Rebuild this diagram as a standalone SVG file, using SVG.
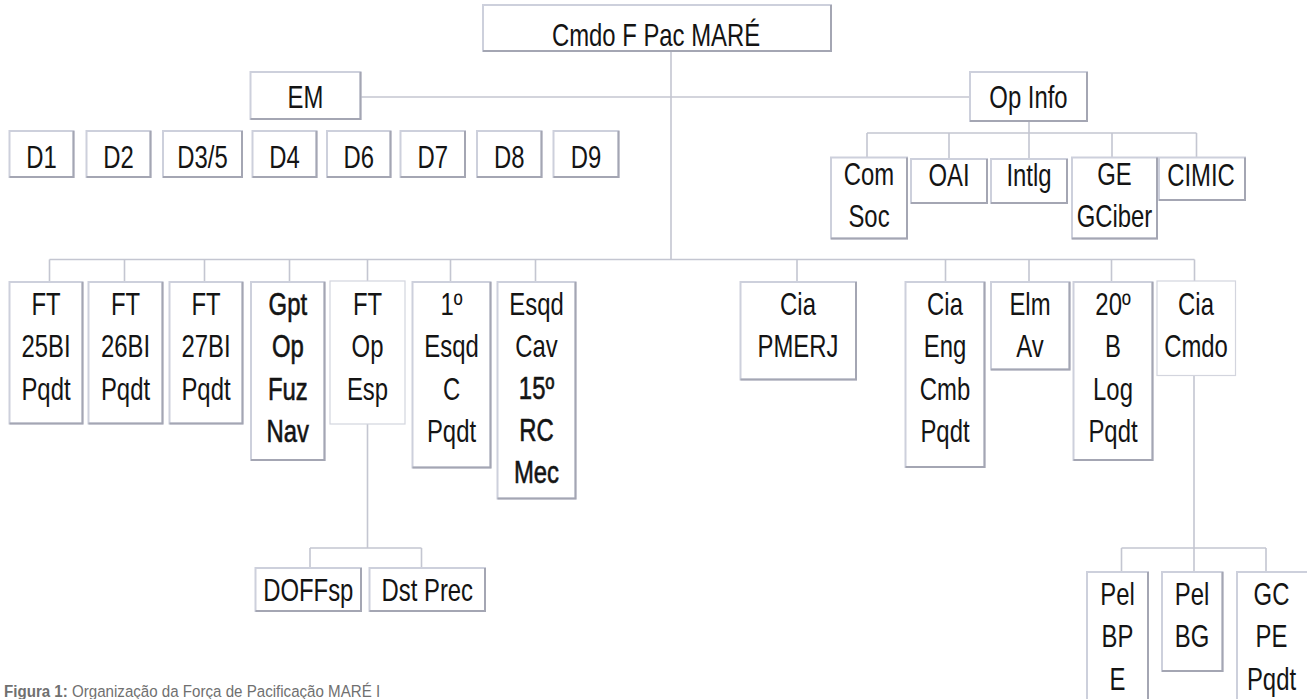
<svg xmlns="http://www.w3.org/2000/svg" width="1307" height="699" viewBox="0 0 1307 699">
<style>
.b{fill:#fff;stroke:#cdd0dc;stroke-width:2}
.s{fill:none;stroke:#a4a6b3;stroke-width:2}
.l{fill:#fff;stroke:#d3d5de;stroke-width:1.2}
.c{fill:none;stroke:#c4c6d1;stroke-width:1.6}
.t{font-family:"Liberation Sans",Arial,sans-serif;font-size:31px;text-anchor:middle;fill:#141414}
.bd{stroke:#141414;stroke-width:0.6}
.cap{font-family:"Liberation Sans",Arial,sans-serif;font-size:16.8px;fill:#707070}
</style>
<rect width="1307" height="699" fill="#fff"/>
<g id="connectors">
<path class="c" d="M360.5,97H970"/>
<path class="c" d="M671,51V259.5"/>
<path class="c" d="M49.5,259.5H1194.5"/>
<path class="c" d="M49.5,259.5V282M124.5,259.5V282M204.5,259.5V282M289.5,259.5V282M367.5,259.5V281M450.5,259.5V282M535.5,259.5V282M797,259.5V282M945.5,259.5V282M1029,259.5V282M1111.5,259.5V282M1194.5,259.5V281"/>
<path class="c" d="M1029,121V133M867,133H1196.5M867,133V157.5M949,133V159M1029,133V159M1112,133V157.5M1196.5,133V157.5"/>
<path class="c" d="M367.5,424V548M310,548H421.5M310,548V568M421.5,548V568"/>
<path class="c" d="M1194,375.5V548M1121.5,548H1266M1121.5,548V572M1194,548V572M1266,548V572"/>
</g>
<g id="n-cmdo"><rect class="b" x="483" y="5" width="348" height="46"/><path class="s" d="M831,5V51H483"/><text class="t" transform="translate(656,46) scale(0.77,1)">Cmdo F Pac MARÉ</text></g>
<g id="n-em"><rect class="b" x="250.5" y="72" width="110" height="47"/><path class="s" d="M360.5,72V119H250.5"/><text class="t" transform="translate(305.5,108) scale(0.77,1)">EM</text></g>
<g id="n-opinfo"><rect class="b" x="970" y="72" width="117" height="49"/><path class="s" d="M1087,72V121H970"/><text class="t" transform="translate(1028.5,108) scale(0.77,1)">Op Info</text></g>
<g id="n-d1"><rect class="b" x="9.5" y="131" width="64" height="46"/><path class="s" d="M73.5,131V177H9.5"/><text class="t" transform="translate(41.5,168) scale(0.77,1)">D1</text></g>
<g id="n-d2"><rect class="b" x="86.5" y="131" width="64" height="46"/><path class="s" d="M150.5,131V177H86.5"/><text class="t" transform="translate(118.5,168) scale(0.77,1)">D2</text></g>
<g id="n-d35"><rect class="b" x="163" y="131" width="79" height="46"/><path class="s" d="M242,131V177H163"/><text class="t" transform="translate(202.5,168) scale(0.77,1)">D3/5</text></g>
<g id="n-d4"><rect class="b" x="252.5" y="131" width="64" height="46"/><path class="s" d="M316.5,131V177H252.5"/><text class="t" transform="translate(284.5,168) scale(0.77,1)">D4</text></g>
<g id="n-d6"><rect class="b" x="327" y="131" width="63.5" height="46"/><path class="s" d="M390.5,131V177H327"/><text class="t" transform="translate(358.8,168) scale(0.77,1)">D6</text></g>
<g id="n-d7"><rect class="b" x="400.5" y="131" width="64.5" height="46"/><path class="s" d="M465,131V177H400.5"/><text class="t" transform="translate(432.8,168) scale(0.77,1)">D7</text></g>
<g id="n-d8"><rect class="b" x="477" y="131" width="64.5" height="46"/><path class="s" d="M541.5,131V177H477"/><text class="t" transform="translate(509.3,168) scale(0.77,1)">D8</text></g>
<g id="n-d9"><rect class="b" x="553.5" y="131" width="65" height="46"/><path class="s" d="M618.5,131V177H553.5"/><text class="t" transform="translate(586,168) scale(0.77,1)">D9</text></g>
<g id="n-comsoc"><rect class="b" x="831" y="157.5" width="76" height="81"/><path class="s" d="M907,157.5V238.5H831"/><text class="t" transform="translate(869,185) scale(0.77,1)"><tspan x="0">Com</tspan><tspan x="0" dy="42">Soc</tspan></text></g>
<g id="n-oai"><rect class="b" x="911" y="159" width="76" height="44"/><path class="s" d="M987,159V203H911"/><text class="t" transform="translate(949,186) scale(0.77,1)">OAI</text></g>
<g id="n-intlg"><rect class="b" x="991" y="159" width="76" height="44"/><path class="s" d="M1067,159V203H991"/><text class="t" transform="translate(1029,186) scale(0.77,1)">Intlg</text></g>
<g id="n-ge"><rect class="b" x="1072" y="157.5" width="85" height="81"/><path class="s" d="M1157,157.5V238.5H1072"/><text class="t" transform="translate(1114.5,185) scale(0.77,1)"><tspan x="0">GE</tspan><tspan x="0" dy="42">GCiber</tspan></text></g>
<g id="n-cimic"><rect class="b" x="1159" y="157.5" width="86" height="42.5"/><path class="s" d="M1245,157.5V200H1159"/><text class="t" transform="translate(1201,186) scale(0.77,1)">CIMIC</text></g>
<g id="n-ft25"><rect class="b" x="9.5" y="282" width="73" height="141.5"/><path class="s" d="M82.5,282V423.5H9.5"/><text class="t" transform="translate(46,315) scale(0.77,1)"><tspan x="0">FT</tspan><tspan x="0" dy="42.5">25BI</tspan><tspan x="0" dy="42.5">Pqdt</tspan></text></g>
<g id="n-ft26"><rect class="b" x="88.5" y="282" width="74" height="141.5"/><path class="s" d="M162.5,282V423.5H88.5"/><text class="t" transform="translate(125.5,315) scale(0.77,1)"><tspan x="0">FT</tspan><tspan x="0" dy="42.5">26BI</tspan><tspan x="0" dy="42.5">Pqdt</tspan></text></g>
<g id="n-ft27"><rect class="b" x="169.5" y="282" width="73" height="141.5"/><path class="s" d="M242.5,282V423.5H169.5"/><text class="t" transform="translate(206,315) scale(0.77,1)"><tspan x="0">FT</tspan><tspan x="0" dy="42.5">27BI</tspan><tspan x="0" dy="42.5">Pqdt</tspan></text></g>
<g id="n-gpt"><rect class="b" x="251" y="282" width="73.5" height="178"/><path class="s" d="M324.5,282V460H251"/><text class="t bd" transform="translate(287.8,315) scale(0.77,1)"><tspan x="0">Gpt</tspan><tspan x="0" dy="42.5">Op</tspan><tspan x="0" dy="42.5">Fuz</tspan><tspan x="0" dy="42.5">Nav</tspan></text></g>
<g id="n-ftopesp"><rect class="l" x="330" y="281" width="75" height="143"/><text class="t" transform="translate(367.5,315) scale(0.77,1)"><tspan x="0">FT</tspan><tspan x="0" dy="42.5">Op</tspan><tspan x="0" dy="42.5">Esp</tspan></text></g>
<g id="n-1esqd"><rect class="b" x="412.5" y="282" width="78" height="185.5"/><path class="s" d="M490.5,282V467.5H412.5"/><text class="t" transform="translate(451.5,315) scale(0.77,1)"><tspan x="0">1º</tspan><tspan x="0" dy="42.5">Esqd</tspan><tspan x="0" dy="42.5">C</tspan><tspan x="0" dy="42.5">Pqdt</tspan></text></g>
<g id="n-esqdcav"><rect class="b" x="497.5" y="282" width="78" height="216.5"/><path class="s" d="M575.5,282V498.5H497.5"/><text class="t" transform="translate(536.5,315) scale(0.77,1)"><tspan x="0">Esqd</tspan><tspan x="0" dy="42">Cav</tspan><tspan x="0" dy="42" class="bd">15º</tspan><tspan x="0" dy="42" class="bd">RC</tspan><tspan x="0" dy="42" class="bd">Mec</tspan></text></g>
<g id="n-pmerj"><rect class="b" x="740.5" y="282" width="115.5" height="97.5"/><path class="s" d="M856,282V379.5H740.5"/><text class="t" transform="translate(798,315) scale(0.77,1)"><tspan x="0">Cia</tspan><tspan x="0" dy="42">PMERJ</tspan></text></g>
<g id="n-ciaeng"><rect class="b" x="905.5" y="282" width="79" height="185"/><path class="s" d="M984.5,282V467H905.5"/><text class="t" transform="translate(945,315) scale(0.77,1)"><tspan x="0">Cia</tspan><tspan x="0" dy="42.5">Eng</tspan><tspan x="0" dy="42.5">Cmb</tspan><tspan x="0" dy="42.5">Pqdt</tspan></text></g>
<g id="n-elmav"><rect class="b" x="991" y="282" width="78.5" height="87.5"/><path class="s" d="M1069.5,282V369.5H991"/><text class="t" transform="translate(1030,315) scale(0.77,1)"><tspan x="0">Elm</tspan><tspan x="0" dy="42">Av</tspan></text></g>
<g id="n-20blog"><rect class="b" x="1073.5" y="282" width="79" height="178"/><path class="s" d="M1152.5,282V460H1073.5"/><text class="t" transform="translate(1113,315) scale(0.77,1)"><tspan x="0">20º</tspan><tspan x="0" dy="42.5">B</tspan><tspan x="0" dy="42.5">Log</tspan><tspan x="0" dy="42.5">Pqdt</tspan></text></g>
<g id="n-ciacmdo"><rect class="l" x="1157" y="281" width="78.5" height="94.5"/><text class="t" transform="translate(1196,315) scale(0.77,1)"><tspan x="0">Cia</tspan><tspan x="0" dy="42">Cmdo</tspan></text></g>
<g id="n-doffsp"><rect class="b" x="255.5" y="568" width="105.5" height="43"/><path class="s" d="M361,568V611H255.5"/><text class="t" transform="translate(308.3,601) scale(0.77,1)">DOFFsp</text></g>
<g id="n-dstprec"><rect class="b" x="369.5" y="568" width="115.5" height="43"/><path class="s" d="M485,568V611H369.5"/><text class="t" transform="translate(427.3,601) scale(0.77,1)">Dst Prec</text></g>
<g id="n-pelbpe"><rect class="b" x="1087" y="572" width="61" height="140"/><path class="s" d="M1148,572V712"/><text class="t" transform="translate(1117.5,605) scale(0.77,1)"><tspan x="0">Pel</tspan><tspan x="0" dy="42.5">BP</tspan><tspan x="0" dy="42.5">E</tspan></text></g>
<g id="n-pelbg"><rect class="b" x="1162" y="572" width="60.5" height="99"/><path class="s" d="M1222.5,572V671H1162"/><text class="t" transform="translate(1192,605) scale(0.77,1)"><tspan x="0">Pel</tspan><tspan x="0" dy="42">BG</tspan></text></g>
<g id="n-gcpe"><rect class="b" x="1237" y="572" width="72" height="140"/><text class="t" transform="translate(1271.5,605) scale(0.77,1)"><tspan x="0">GC</tspan><tspan x="0" dy="42.5">PE</tspan><tspan x="0" dy="42.5">Pqdt</tspan></text></g>
<text class="cap" transform="translate(4,697) scale(0.9,1)"><tspan font-weight="bold">Figura 1:</tspan> Organização da Força de Pacificação MARÉ I</text>
</svg>
